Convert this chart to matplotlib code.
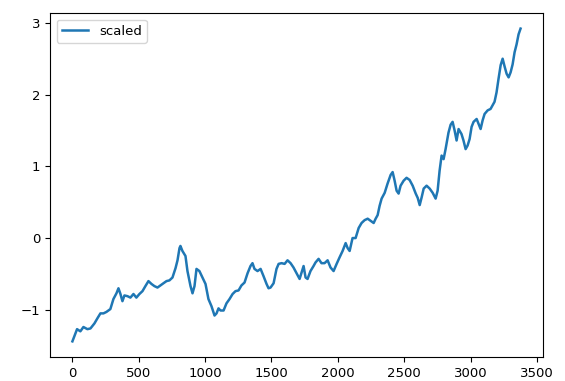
import matplotlib
matplotlib.use("Agg")
import matplotlib.pyplot as plt

# values (index, scaled value)
steps = [0, 35, 60, 83, 113, 136, 166, 188, 211, 234, 256, 286, 309, 332, 347,
         362, 377, 392, 415, 437, 460, 482, 505, 528, 550, 573, 596, 618, 641,
         663, 686, 709, 731, 754, 777, 792, 807, 814, 829, 852, 867, 890, 905,
         920, 935, 957, 980, 1003, 1025, 1048, 1071, 1086, 1101, 1116, 1139,
         1161, 1184, 1207, 1229, 1252, 1274, 1297, 1320, 1342, 1357, 1372, 1395,
         1418, 1440, 1463, 1478, 1493, 1516, 1538, 1554, 1576, 1599, 1621, 1644,
         1666, 1689, 1712, 1727, 1742, 1757, 1772, 1794, 1817, 1832, 1855, 1877,
         1900, 1923, 1945, 1968, 1991, 2013, 2036, 2059, 2074, 2089, 2111, 2134,
         2157, 2179, 2202, 2225, 2247, 2270, 2285, 2300, 2315, 2330, 2353, 2375,
         2398, 2413, 2428, 2443, 2458, 2473, 2496, 2518, 2541, 2564, 2587, 2602,
         2617, 2632, 2647, 2669, 2692, 2715, 2737, 2752, 2767, 2782, 2797, 2812,
         2834, 2850, 2865, 2880, 2895, 2910, 2932, 2947, 2963, 2978, 2993, 3008,
         3023, 3046, 3061, 3076, 3091, 3106, 3129, 3151, 3166, 3181, 3196, 3211,
         3227, 3242, 3257, 3272, 3287, 3302, 3317, 3332, 3347, 3362, 3377]
scaled = [-1.44, -1.27, -1.30, -1.24, -1.27, -1.26, -1.19, -1.12, -1.05, -1.05,
          -1.03, -0.99, -0.85, -0.77, -0.70, -0.78, -0.88, -0.80, -0.81, -0.83,
          -0.78, -0.83, -0.78, -0.74, -0.67, -0.60, -0.64, -0.67, -0.69, -0.66,
          -0.63, -0.60, -0.59, -0.55, -0.42, -0.31, -0.14, -0.11, -0.18, -0.25,
          -0.46, -0.67, -0.77, -0.67, -0.43, -0.46, -0.55, -0.64, -0.85, -0.95,
          -1.08, -1.05, -0.98, -1.01, -1.01, -0.91, -0.85, -0.78, -0.74, -0.73,
          -0.66, -0.62, -0.49, -0.39, -0.35, -0.43, -0.46, -0.43, -0.53, -0.64,
          -0.70, -0.69, -0.63, -0.43, -0.36, -0.35, -0.36, -0.31, -0.35, -0.41,
          -0.49, -0.57, -0.48, -0.39, -0.55, -0.57, -0.46, -0.39, -0.34, -0.29,
          -0.35, -0.35, -0.31, -0.41, -0.46, -0.36, -0.27, -0.18, -0.07, -0.14,
          -0.18, 0.00, 0.00, 0.14, 0.21, 0.25, 0.27, 0.24, 0.21, 0.27, 0.32,
          0.45, 0.55, 0.63, 0.76, 0.88, 0.92, 0.80, 0.66, 0.62, 0.73, 0.80,
          0.84, 0.81, 0.73, 0.62, 0.56, 0.46, 0.57, 0.69, 0.73, 0.69, 0.63,
          0.55, 0.66, 0.94, 1.15, 1.10, 1.24, 1.47, 1.58, 1.62, 1.50, 1.36,
          1.52, 1.45, 1.36, 1.24, 1.29, 1.38, 1.55, 1.62, 1.66, 1.59, 1.52,
          1.64, 1.73, 1.78, 1.80, 1.85, 1.90, 2.03, 2.22, 2.41, 2.50, 2.39,
          2.29, 2.24, 2.31, 2.42, 2.59, 2.70, 2.84, 2.92]

fig = plt.figure(figsize=(5.65, 3.81), dpi=100)
ax = fig.add_axes([0.0885, 0.063, 0.8725, 0.903])
ax.plot(steps, scaled, color="#1f77b4", linewidth=1.8, label="scaled")
ax.set_xticks([0, 500, 1000, 1500, 2000, 2500, 3000, 3500])
ax.set_yticks([-1, 0, 1, 2, 3])
ax.tick_params(labelsize=9.5)
ax.legend(loc="upper left", fontsize=9.5)
fig.savefig("out.png", dpi=100)
